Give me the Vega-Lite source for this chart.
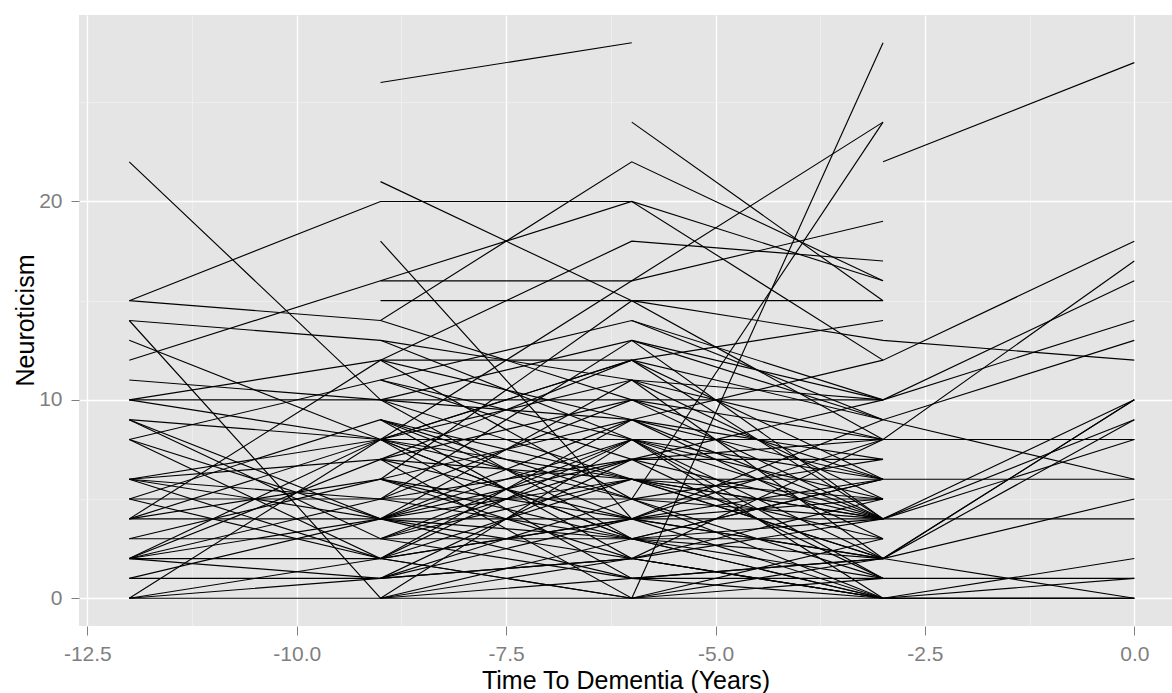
{
  "$schema": "https://vega.github.io/schema/vega-lite/v6.json",
  "width": 1093,
  "height": 611,
  "autosize": {"type": "none"},
  "padding": {"left": 79, "top": 15, "right": 0, "bottom": 67},
  "background": "white",
  "config": {
    "view": {"fill": "#E5E5E5", "stroke": null},
    "font": "Liberation Sans"
  },
  "data": {"values": [
    {"id":1,"t":-9,"v":26},{"id":1,"t":-6,"v":28},
    {"id":2,"t":-3,"v":22},{"id":2,"t":0,"v":27},
    {"id":3,"t":-12,"v":22},{"id":3,"t":-9,"v":10},{"id":3,"t":-6,"v":6},{"id":3,"t":-3,"v":4},{"id":3,"t":0,"v":4},
    {"id":4,"t":-12,"v":15},{"id":4,"t":-9,"v":20},{"id":4,"t":-6,"v":20},{"id":4,"t":-3,"v":12},{"id":4,"t":0,"v":18},
    {"id":5,"t":-12,"v":15},{"id":5,"t":-9,"v":14},{"id":5,"t":-6,"v":22},{"id":5,"t":-3,"v":16},
    {"id":6,"t":-9,"v":21},{"id":6,"t":-6,"v":15},{"id":6,"t":-3,"v":13},{"id":6,"t":0,"v":12},
    {"id":7,"t":-12,"v":14},{"id":7,"t":-9,"v":13},{"id":7,"t":-6,"v":11},{"id":7,"t":-3,"v":10},{"id":7,"t":0,"v":14},
    {"id":8,"t":-12,"v":14},{"id":8,"t":-9,"v":0},{"id":8,"t":-6,"v":2},{"id":8,"t":-3,"v":0},{"id":8,"t":0,"v":0},
    {"id":9,"t":-12,"v":12},{"id":9,"t":-9,"v":16},{"id":9,"t":-6,"v":20},{"id":9,"t":-3,"v":16},
    {"id":10,"t":-9,"v":16},{"id":10,"t":-6,"v":16},{"id":10,"t":-3,"v":19},
    {"id":11,"t":-9,"v":12},{"id":11,"t":-6,"v":18},{"id":11,"t":-3,"v":17},
    {"id":12,"t":-9,"v":15},{"id":12,"t":-6,"v":15},{"id":12,"t":-3,"v":15},
    {"id":13,"t":-6,"v":24},{"id":13,"t":-3,"v":15},
    {"id":14,"t":-9,"v":8},{"id":14,"t":-6,"v":16},{"id":14,"t":-3,"v":24},
    {"id":15,"t":-6,"v":5},{"id":15,"t":-3,"v":24},
    {"id":16,"t":-6,"v":0},{"id":16,"t":-3,"v":28},
    {"id":17,"t":-12,"v":13},{"id":17,"t":-9,"v":8},{"id":17,"t":-6,"v":8},{"id":17,"t":-3,"v":8},{"id":17,"t":0,"v":17},
    {"id":18,"t":-12,"v":10},{"id":18,"t":-9,"v":10},{"id":18,"t":-6,"v":10},{"id":18,"t":-3,"v":10},{"id":18,"t":0,"v":16},
    {"id":19,"t":-9,"v":18},{"id":19,"t":-6,"v":4},{"id":19,"t":-3,"v":2},{"id":19,"t":0,"v":10},
    {"id":20,"t":-12,"v":11},{"id":20,"t":-9,"v":10},{"id":20,"t":-6,"v":13},{"id":20,"t":-3,"v":9},{"id":20,"t":0,"v":13},
    {"id":21,"t":-12,"v":10},{"id":21,"t":-9,"v":12},{"id":21,"t":-6,"v":12},{"id":21,"t":-3,"v":9},{"id":21,"t":0,"v":6},
    {"id":22,"t":-12,"v":9},{"id":22,"t":-9,"v":8},{"id":22,"t":-6,"v":3},{"id":22,"t":-3,"v":2},{"id":22,"t":0,"v":5},
    {"id":23,"t":-12,"v":9},{"id":23,"t":-9,"v":4},{"id":23,"t":-6,"v":6},{"id":23,"t":-3,"v":6},{"id":23,"t":0,"v":6},
    {"id":24,"t":-12,"v":8},{"id":24,"t":-9,"v":11},{"id":24,"t":-6,"v":14},{"id":24,"t":-3,"v":10},
    {"id":25,"t":-12,"v":8},{"id":25,"t":-9,"v":4},{"id":25,"t":-6,"v":9},{"id":25,"t":-3,"v":4},{"id":25,"t":0,"v":10},
    {"id":26,"t":-12,"v":6},{"id":26,"t":-9,"v":7},{"id":26,"t":-6,"v":4},{"id":26,"t":-3,"v":0},{"id":26,"t":0,"v":1},
    {"id":27,"t":-12,"v":6},{"id":27,"t":-9,"v":5},{"id":27,"t":-6,"v":7},{"id":27,"t":-3,"v":8},{"id":27,"t":0,"v":8},
    {"id":28,"t":-12,"v":5},{"id":28,"t":-9,"v":5},{"id":28,"t":-6,"v":5},{"id":28,"t":-3,"v":5},
    {"id":29,"t":-12,"v":4},{"id":29,"t":-9,"v":12},{"id":29,"t":-6,"v":9},{"id":29,"t":-3,"v":7},
    {"id":30,"t":-12,"v":4},{"id":30,"t":-9,"v":4},{"id":30,"t":-6,"v":4},{"id":30,"t":-3,"v":4},{"id":30,"t":0,"v":8},
    {"id":31,"t":-12,"v":3},{"id":31,"t":-9,"v":3},{"id":31,"t":-6,"v":3},{"id":31,"t":-3,"v":3},
    {"id":32,"t":-12,"v":2},{"id":32,"t":-9,"v":7},{"id":32,"t":-6,"v":10},{"id":32,"t":-3,"v":6},
    {"id":33,"t":-12,"v":2},{"id":33,"t":-9,"v":4},{"id":33,"t":-6,"v":1},{"id":33,"t":-3,"v":1},
    {"id":34,"t":-12,"v":2},{"id":34,"t":-9,"v":2},{"id":34,"t":-6,"v":0},{"id":34,"t":-3,"v":2},{"id":34,"t":0,"v":0},
    {"id":35,"t":-12,"v":1},{"id":35,"t":-9,"v":1},{"id":35,"t":-6,"v":5},{"id":35,"t":-3,"v":4},{"id":35,"t":0,"v":9},
    {"id":36,"t":-12,"v":0},{"id":36,"t":-9,"v":0},{"id":36,"t":-6,"v":0},{"id":36,"t":-3,"v":0},{"id":36,"t":0,"v":2},
    {"id":37,"t":-12,"v":0},{"id":37,"t":-9,"v":2},{"id":37,"t":-6,"v":6},{"id":37,"t":-3,"v":2},{"id":37,"t":0,"v":10},
    {"id":38,"t":-9,"v":0},{"id":38,"t":-6,"v":8},{"id":38,"t":-3,"v":4},
    {"id":39,"t":-9,"v":0},{"id":39,"t":-6,"v":3},{"id":39,"t":-3,"v":6},
    {"id":40,"t":-9,"v":1},{"id":40,"t":-6,"v":2},{"id":40,"t":-3,"v":0},{"id":40,"t":0,"v":0},
    {"id":41,"t":-9,"v":3},{"id":41,"t":-6,"v":1},{"id":41,"t":-3,"v":0},
    {"id":42,"t":-9,"v":5},{"id":42,"t":-6,"v":3},{"id":42,"t":-3,"v":1},
    {"id":43,"t":-9,"v":6},{"id":43,"t":-6,"v":2},{"id":43,"t":-3,"v":5},
    {"id":44,"t":-9,"v":7},{"id":44,"t":-6,"v":12},{"id":44,"t":-3,"v":4},
    {"id":45,"t":-9,"v":9},{"id":45,"t":-6,"v":4},{"id":45,"t":-3,"v":6},
    {"id":46,"t":-9,"v":11},{"id":46,"t":-6,"v":7},{"id":46,"t":-3,"v":7},
    {"id":47,"t":-9,"v":13},{"id":47,"t":-6,"v":8},{"id":47,"t":-3,"v":5},
    {"id":48,"t":-9,"v":2},{"id":48,"t":-6,"v":9},{"id":48,"t":-3,"v":12},
    {"id":49,"t":-9,"v":4},{"id":49,"t":-6,"v":2},{"id":49,"t":-3,"v":8},
    {"id":50,"t":-9,"v":3},{"id":50,"t":-6,"v":6},{"id":50,"t":-3,"v":3},
    {"id":51,"t":-9,"v":8},{"id":51,"t":-6,"v":5},{"id":51,"t":-3,"v":1},{"id":51,"t":0,"v":1},
    {"id":52,"t":-9,"v":6},{"id":52,"t":-6,"v":9},{"id":52,"t":-3,"v":3},
    {"id":53,"t":-6,"v":13},{"id":53,"t":-3,"v":10},
    {"id":54,"t":-6,"v":14},{"id":54,"t":-3,"v":9},
    {"id":55,"t":-6,"v":11},{"id":55,"t":-3,"v":2},
    {"id":56,"t":-12,"v":9},{"id":56,"t":-9,"v":3},{"id":56,"t":-6,"v":7},{"id":56,"t":-3,"v":1},
    {"id":57,"t":-12,"v":4},{"id":57,"t":-9,"v":6},{"id":57,"t":-6,"v":4},{"id":57,"t":-3,"v":2},{"id":57,"t":0,"v":9},
    {"id":58,"t":-12,"v":2},{"id":58,"t":-9,"v":1},{"id":58,"t":-6,"v":2},{"id":58,"t":-3,"v":0},{"id":58,"t":0,"v":0},
    {"id":59,"t":-12,"v":0},{"id":59,"t":-9,"v":1},{"id":59,"t":-6,"v":4},{"id":59,"t":-3,"v":5},
    {"id":60,"t":-9,"v":10},{"id":60,"t":-6,"v":3},{"id":60,"t":-3,"v":0},
    {"id":61,"t":-9,"v":5},{"id":61,"t":-6,"v":10},{"id":61,"t":-3,"v":4},
    {"id":62,"t":-9,"v":9},{"id":62,"t":-6,"v":6},{"id":62,"t":-3,"v":5},
    {"id":63,"t":-9,"v":7},{"id":63,"t":-6,"v":0},{"id":63,"t":-3,"v":3},
    {"id":64,"t":-12,"v":5},{"id":64,"t":-9,"v":2},{"id":64,"t":-6,"v":0},{"id":64,"t":-3,"v":1},
    {"id":65,"t":-12,"v":6},{"id":65,"t":-9,"v":8},{"id":65,"t":-6,"v":12},{"id":65,"t":-3,"v":14},
    {"id":66,"t":-9,"v":8},{"id":66,"t":-6,"v":11},{"id":66,"t":-3,"v":8},{"id":66,"t":0,"v":8},
    {"id":67,"t":-9,"v":4},{"id":67,"t":-6,"v":8},{"id":67,"t":-3,"v":6},
    {"id":68,"t":-12,"v":10},{"id":68,"t":-9,"v":8},{"id":68,"t":-6,"v":6},{"id":68,"t":-3,"v":2},
    {"id":69,"t":-12,"v":6},{"id":69,"t":-9,"v":2},{"id":69,"t":-6,"v":4},{"id":69,"t":-3,"v":8},
    {"id":70,"t":-12,"v":2},{"id":70,"t":-9,"v":8},{"id":70,"t":-6,"v":3},{"id":70,"t":-3,"v":0},
    {"id":71,"t":-12,"v":0},{"id":71,"t":-9,"v":8},{"id":71,"t":-6,"v":12},{"id":71,"t":-3,"v":6},
    {"id":72,"t":-12,"v":4},{"id":72,"t":-9,"v":8},{"id":72,"t":-6,"v":1},{"id":72,"t":-3,"v":2},
    {"id":73,"t":-12,"v":8},{"id":73,"t":-9,"v":2},{"id":73,"t":-6,"v":8},{"id":73,"t":-3,"v":1},
    {"id":74,"t":-12,"v":2},{"id":74,"t":-9,"v":5},{"id":74,"t":-6,"v":13},{"id":74,"t":-3,"v":4},
    {"id":75,"t":-12,"v":5},{"id":75,"t":-9,"v":9},{"id":75,"t":-6,"v":5},{"id":75,"t":-3,"v":0},
    {"id":76,"t":-12,"v":1},{"id":76,"t":-9,"v":4},{"id":76,"t":-6,"v":7},{"id":76,"t":-3,"v":10},
    {"id":77,"t":-9,"v":10},{"id":77,"t":-6,"v":9},{"id":77,"t":-3,"v":6},
    {"id":78,"t":-9,"v":12},{"id":78,"t":-6,"v":5},{"id":78,"t":-3,"v":7},
    {"id":79,"t":-9,"v":6},{"id":79,"t":-6,"v":15},{"id":79,"t":-3,"v":8},
    {"id":80,"t":-9,"v":4},{"id":80,"t":-6,"v":11},{"id":80,"t":-3,"v":5},
    {"id":81,"t":-9,"v":1},{"id":81,"t":-6,"v":7},{"id":81,"t":-3,"v":4},
    {"id":82,"t":-9,"v":2},{"id":82,"t":-6,"v":4},{"id":82,"t":-3,"v":9},
    {"id":83,"t":-9,"v":0},{"id":83,"t":-6,"v":1},{"id":83,"t":-3,"v":2},
    {"id":84,"t":-9,"v":9},{"id":84,"t":-6,"v":2},{"id":84,"t":-3,"v":4},
    {"id":85,"t":-9,"v":11},{"id":85,"t":-6,"v":8},{"id":85,"t":-3,"v":2},
    {"id":86,"t":-9,"v":3},{"id":86,"t":-6,"v":8},{"id":86,"t":-3,"v":0},
    {"id":87,"t":-12,"v":3},{"id":87,"t":-9,"v":6},{"id":87,"t":-6,"v":3},{"id":87,"t":-3,"v":6},
    {"id":88,"t":-12,"v":6},{"id":88,"t":-9,"v":4},{"id":88,"t":-6,"v":3},{"id":88,"t":-3,"v":4},
    {"id":89,"t":-9,"v":14},{"id":89,"t":-6,"v":10},{"id":89,"t":-3,"v":8},
    {"id":90,"t":-9,"v":7},{"id":90,"t":-6,"v":6},{"id":90,"t":-3,"v":4}
  ]},
  "layer": [
    {
      "mark": {"type": "line", "opacity": 0},
      "encoding": {
        "x": {"field": "t", "type": "quantitative",
          "scale": {"domain": [-12.6, 0.45], "nice": false, "zero": false},
          "axis": {"orient": "bottom", "values": [-11.25, -8.75, -6.25, -3.75, -1.25], "grid": true, "gridColor": "#F2F2F2", "gridWidth": 0.7, "labels": false, "ticks": false, "domain": false, "title": null}},
        "y": {"field": "v", "type": "quantitative",
          "scale": {"domain": [-1.4, 29.4], "nice": false, "zero": false},
          "axis": {"orient": "left", "values": [5, 15, 25], "grid": true, "gridColor": "#F2F2F2", "gridWidth": 0.7, "labels": false, "ticks": false, "domain": false, "title": null}},
        "detail": {"field": "id"}
      }
    },
    {
      "mark": {"type": "line", "color": "black", "strokeWidth": 1.15},
      "encoding": {
        "x": {"field": "t", "type": "quantitative",
          "scale": {"domain": [-12.6, 0.45], "nice": false, "zero": false},
          "axis": {"orient": "bottom", "values": [-12.5, -10, -7.5, -5, -2.5, 0],
            "labelExpr": "replace(format(datum.value, '.1f'), '−', '-')",
            "grid": true, "gridColor": "white", "gridWidth": 1.3, "domain": false,
            "ticks": true, "tickColor": "#7F7F7F", "tickSize": 9, "tickWidth": 1,
            "labelFontSize": 21, "labelColor": "#7F7F7F", "labelBaseline": "alphabetic", "labelPadding": 25, "labelFlush": false, "labelOverlap": false,
            "title": "Time To Dementia (Years)", "titleFontSize": 25, "titleFontWeight": "normal", "titleColor": "black",
            "titleBaseline": "alphabetic", "titleY": 62, "titleX": 546.5, "titleAnchor": "middle"}},
        "y": {"field": "v", "type": "quantitative",
          "scale": {"domain": [-1.4, 29.4], "nice": false, "zero": false},
          "axis": {"orient": "left", "values": [0, 10, 20],
            "grid": true, "gridColor": "white", "gridWidth": 1.3, "domain": false,
            "ticks": true, "tickColor": "#7F7F7F", "tickSize": 8, "tickWidth": 1,
            "labelFontSize": 21, "labelColor": "#7F7F7F", "labelBaseline": "middle", "labelPadding": 9, "labelOverlap": false,
            "title": "Neuroticism", "titleFontSize": 25, "titleFontWeight": "normal", "titleColor": "black",
            "titleAngle": -90, "titleBaseline": "alphabetic", "titleX": -46, "titleY": 305, "titleAnchor": "middle", "titleAlign": "center"}},
        "detail": {"field": "id"}
      }
    }
  ],
  "resolve": {"axis": {"x": "independent", "y": "independent"}}
}
